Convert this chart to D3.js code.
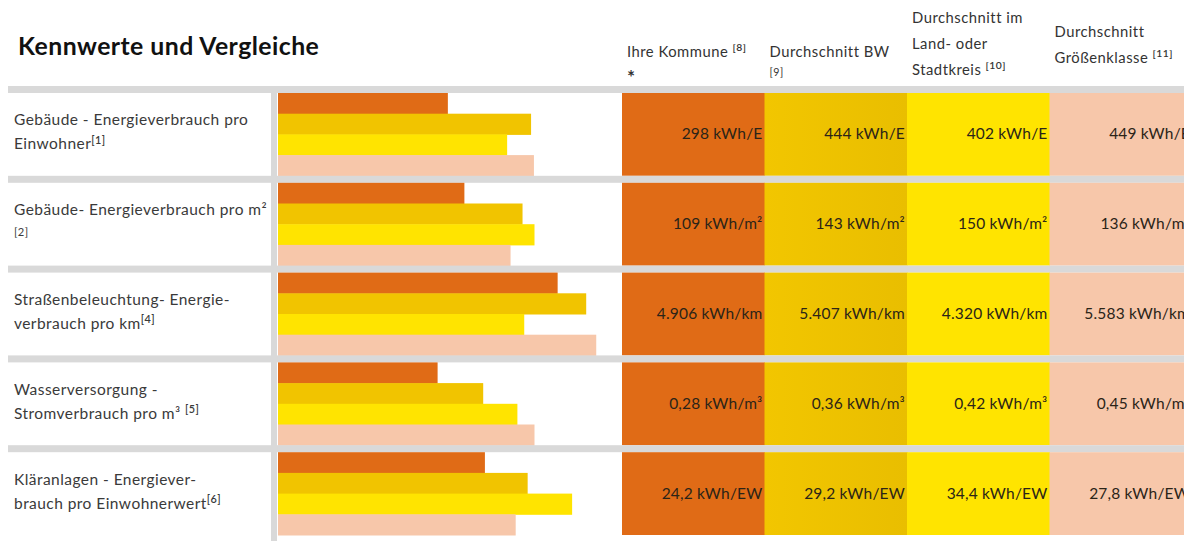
<!DOCTYPE html>
<html>
<head>
<meta charset="utf-8">
<script src="https://cdn.jsdelivr.net/npm/d3@7"></script>
<style>
  html, body { margin: 0; padding: 0; background: #fff; }
  svg { display: block; font-family: Lato, "Open Sans", sans-serif; }
</style>
</head>
<body>
<svg id="chart" width="1184" height="541"></svg>
<script>
// Row labels; "^" starts a superscript, "_" marks a small line of its own
const rowLabels = [
  ["Gebäude - Energieverbrauch pro", "Einwohner^[1]"],
  ["Gebäude- Energieverbrauch pro m²", "_[2]"],
  ["Straßenbeleuchtung- Energie-", "verbrauch pro km^[4]"],
  ["Wasserversorgung -", "Stromverbrauch pro m³ ^[5]"],
  ["Kläranlagen - Energiever-", "brauch pro Einwohnerwert^[6]"]
];

// Column headings of the four series
const seriesHeaders = [
  ["Ihre Kommune ^[8]", "*"],
  ["Durchschnitt BW", "_[9]"],
  ["Durchschnitt im", "Land- oder", "Stadtkreis ^[10]"],
  ["Durchschnitt", "Größenklasse ^[11]"]
];

// Values per indicator
const kommune   = [298, 109, 4906, 0.28, 24.2];
const bw        = [444, 143, 5407, 0.36, 29.2];
const kreis     = [402, 150, 4320, 0.42, 34.4];
const groesse   = [449, 136, 5583, 0.45, 27.8];
const units     = ["kWh/E", "kWh/m²", "kWh/km", "kWh/m³", "kWh/EW"];
const numFormat = [",d", ",d", ",d", ".2f", ".1f"];
// Upper end of the bar scale for each indicator
const scaleMax  = [600, 200, 6000, 0.6, 40];

const series = [kommune, bw, kreis, groesse];
const colors = ["#E06B16", "#F1C400", "#FFE400", "#F7C7AA"];

const de = d3.formatLocale({ decimal: ",", thousands: ".", grouping: [3], currency: ["", " €"] });

const svg = d3.select("#chart");
const W = 1184;

// Dark-yellow cells darken slightly towards the right
const defs = svg.append("defs");
const grad = defs.append("linearGradient").attr("id", "bwGrad");
grad.append("stop").attr("offset", "0%").attr("stop-color", "#F2C600");
grad.append("stop").attr("offset", "100%").attr("stop-color", "#E9BE00");
const cellFill = [colors[0], "url(#bwGrad)", colors[2], colors[3]];

// Title
svg.append("text")
  .attr("x", 18).attr("y", 55)
  .attr("font-size", 24.8).attr("font-weight", 700)
  .attr("letter-spacing", 0.45)
  .attr("fill", "#111")
  .text("Kennwerte und Vergleiche");

// Layout scales
const sepH = 7;
const rowScale = d3.scaleBand().domain(d3.range(rowLabels.length)).range([86, 535]);
const colScale = d3.scaleBand().domain(d3.range(series.length)).range([622, 622 + 142.5 * 4]);
const barX0 = 278, barX1 = 620;

// Text with superscripts / small lines
function richLine(sel, str, size) {
  let small = false;
  if (str.startsWith("_")) { small = true; str = str.slice(1); }
  const parts = str.split("^");
  sel.append("tspan").attr("font-size", small ? size * 0.72 : size).text(parts[0]);
  if (parts[1] !== undefined) {
    sel.append("tspan")
      .attr("font-size", size * 0.7)
      .attr("font-weight", 600)
      .attr("dy", -size * 0.38)
      .text(parts[1]);
  }
}

// Column headings
const headerFirstBaseline = [57, 57, 23, 37];
seriesHeaders.forEach((lines, j) => {
  const x = colScale(j) + 5;
  lines.forEach((ln, k) => {
    const t = svg.append("text").attr("x", x).attr("fill", "#333").attr("letter-spacing", 0.5);
    if (ln === "*") {
      t.attr("y", headerFirstBaseline[j] + 27).attr("font-size", 19).attr("font-weight", 700).text(ln);
      return;
    }
    const y = k === 0 ? headerFirstBaseline[j]
            : ln.startsWith("_") ? headerFirstBaseline[j] + 19
            : headerFirstBaseline[j] + k * 26;
    t.attr("y", y);
    richLine(t, ln, 14.8);
  });
});

// Rows
rowLabels.forEach((lines, i) => {
  const top = rowScale(i);
  const y0 = top + sepH, y1 = top + rowScale.step();
  const h = y1 - y0;
  const g = svg.append("g");

  // separator
  g.append("rect").attr("x", 8).attr("y", top).attr("width", W - 8).attr("height", sepH).attr("fill", "#D9D9D9");

  // labels
  const cy = y0 + h / 2;
  lines.forEach((ln, k) => {
    const isSmall = ln.startsWith("_");
    const y = k === 0 ? cy - 9 : (isSmall ? cy + 12 : cy + 15);
    const t = g.append("text").attr("x", 14).attr("y", y)
      .attr("fill", "#3a3a3a").attr("letter-spacing", 0.45);
    richLine(t, ln, 15.5);
  });

  // bars
  const x = d3.scaleLinear().domain([0, scaleMax[i]]).range([barX0, barX1]);
  const yb = d3.scaleBand().domain(d3.range(series.length)).range([y0, y1]);
  g.selectAll("rect.bar")
    .data(series.map((s, j) => ({ v: s[i], j })))
    .join("rect")
    .attr("class", "bar")
    .attr("x", x(0))
    .attr("y", d => yb(d.j))
    .attr("width", d => x(d.v) - x(0))
    .attr("height", yb.bandwidth() + 0.5)
    .attr("fill", d => colors[d.j]);

  // value cells
  const fmt = de.format(numFormat[i]);
  series.forEach((s, j) => {
    g.append("rect")
      .attr("x", colScale(j)).attr("y", y0)
      .attr("width", colScale.bandwidth() + 0.5).attr("height", h)
      .attr("fill", cellFill[j]);
    g.append("text")
      .attr("x", colScale(j) + colScale.bandwidth() - 2)
      .attr("y", cy + 5)
      .attr("text-anchor", "end")
      .attr("font-size", 15.5)
      .attr("letter-spacing", 0.2)
      .attr("fill", "#2b2418")
      .text(fmt(s[i]) + " " + units[i]);
  });
});

// Vertical divider between labels and bars
svg.append("rect")
  .attr("x", 271).attr("y", rowScale(0))
  .attr("width", 6).attr("height", 541 - rowScale(0))
  .attr("fill", "#D9D9D9");
</script>
</body>
</html>
